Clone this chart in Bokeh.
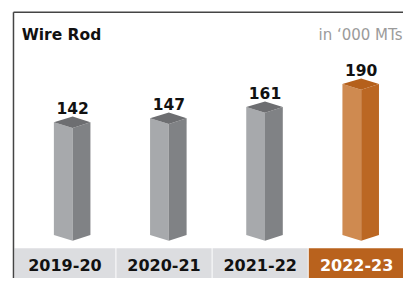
from bokeh.plotting import figure
from bokeh.models import Range1d
from bokeh.core.properties import value
from bokeh.embed import file_html
from bokeh.resources import INLINE

# ---------------- data ----------------
title = "Wire Rod"
unit_label = "in \u2018000 MTs"
categories = ["2019-20", "2020-21", "2021-22", "2022-23"]
volumes = [142, 147, 161, 190]
highlight_index = 3

# ---------------- layout helpers ----------------
W, H = 403, 278            # figure size (fits 419x294 window with 8px margin)
REF_W, REF_H = 419, 294    # design space
PX_X = 100.0               # design pixels per category step
PX_Y = 0.84                # design pixels per unit of volume
X0_REF, Y0_REF = 70.0, 248.0


def sx(ref):
    return (ref - X0_REF) / PX_X


def sy(ref):
    return (Y0_REF - ref) / PX_Y


x_start, x_end = sx(0), sx(REF_W)
y_start, y_end = sy(REF_H), sy(0)

p = figure(width=W, height=H, output_backend="svg", toolbar_location=None,
           x_range=Range1d(x_start, x_end), y_range=Range1d(y_start, y_end),
           x_axis_type=None, y_axis_type=None, min_border=0)
p.grid.visible = False
p.outline_line_color = None
p.background_fill_color = "white"
p.border_fill_color = "white"

FONT = value("DejaVu Sans")

# ---------------- category band ----------------
n = len(categories)
band_left, band_right, band_color, band_text_color, band_x = [], [], [], [], []
for i in range(n):
    l = i - 0.5 + 0.005 if i > 0 else sx(14.5)
    r = i + 0.5 - 0.005 if i < n - 1 else x_end + 0.2
    band_left.append(l)
    band_right.append(r)
    hl = (i == highlight_index)
    band_color.append("#b9621d" if hl else "#dcdde0")
    band_text_color.append("white" if hl else "#111111")
    band_x.append((l + min(r, i + 0.5)) / 2)

band_top = sy(262)
p.quad(left=band_left, right=band_right, top=band_top, bottom=y_start - 10,
       fill_color=band_color, line_color=None)
p.text(x=band_x, y=[sy(280)] * n, text=categories, text_align="center",
       text_baseline="alphabetic", text_font=FONT, text_font_style="bold",
       text_font_size="16px", text_color=band_text_color)

# ---------------- 3D bars ----------------
d = 6 / PX_Y
left_xs, left_ys, right_xs, right_ys, top_xs, top_ys = [], [], [], [], [], []
cl, cr, ct, centers = [], [], [], []
for i, v in enumerate(volumes):
    xc = i + 0.05
    xl = xc - 0.195
    xr = xc + 0.185
    centers.append(xc)
    left_xs.append([xl, xc, xc, xl])
    left_ys.append([v, v - d, -d, 0])
    right_xs.append([xc, xr, xr, xc])
    right_ys.append([v - d, v, 0, -d])
    top_xs.append([xl, xc, xr, xc])
    top_ys.append([v, v + d, v, v - d])
    if i == highlight_index:
        cl.append("#cf8a50"); cr.append("#bb6723"); ct.append("#b5601b")
    else:
        cl.append("#a7a9ac"); cr.append("#808285"); ct.append("#6d6e71")

p.patches(xs=left_xs, ys=left_ys, fill_color=cl, line_color=None)
p.patches(xs=right_xs, ys=right_ys, fill_color=cr, line_color=None)
p.patches(xs=top_xs, ys=top_ys, fill_color=ct, line_color=None)

# value labels
p.text(x=centers, y=[v + d + 9 / PX_Y for v in volumes], text=[str(v) for v in volumes],
       text_align="center", text_baseline="alphabetic", text_font=FONT,
       text_font_style="bold", text_font_size="15.5px", text_color="#111111")

# ---------------- frame & titles ----------------
p.segment(x0=[sx(13.5), sx(13.5)], y0=[sy(12.5), sy(12.5)],
          x1=[x_end + 1, sx(13.5)], y1=[sy(12.5), y_start - 10],
          line_color="#444444", line_width=1.5)

p.text(x=[sx(22)], y=[sy(37)], text=[title], text_align="left",
       text_baseline="alphabetic", text_font=FONT, text_font_style="bold",
       text_font_size="15.5px", text_color="#111111")
p.text(x=[sx(418)], y=[sy(37)], text=[unit_label], text_align="right",
       text_baseline="alphabetic", text_font=FONT, text_font_size="15px",
       text_color="#9b9b9b")

open("out.html", "w").write(file_html(p, INLINE))
